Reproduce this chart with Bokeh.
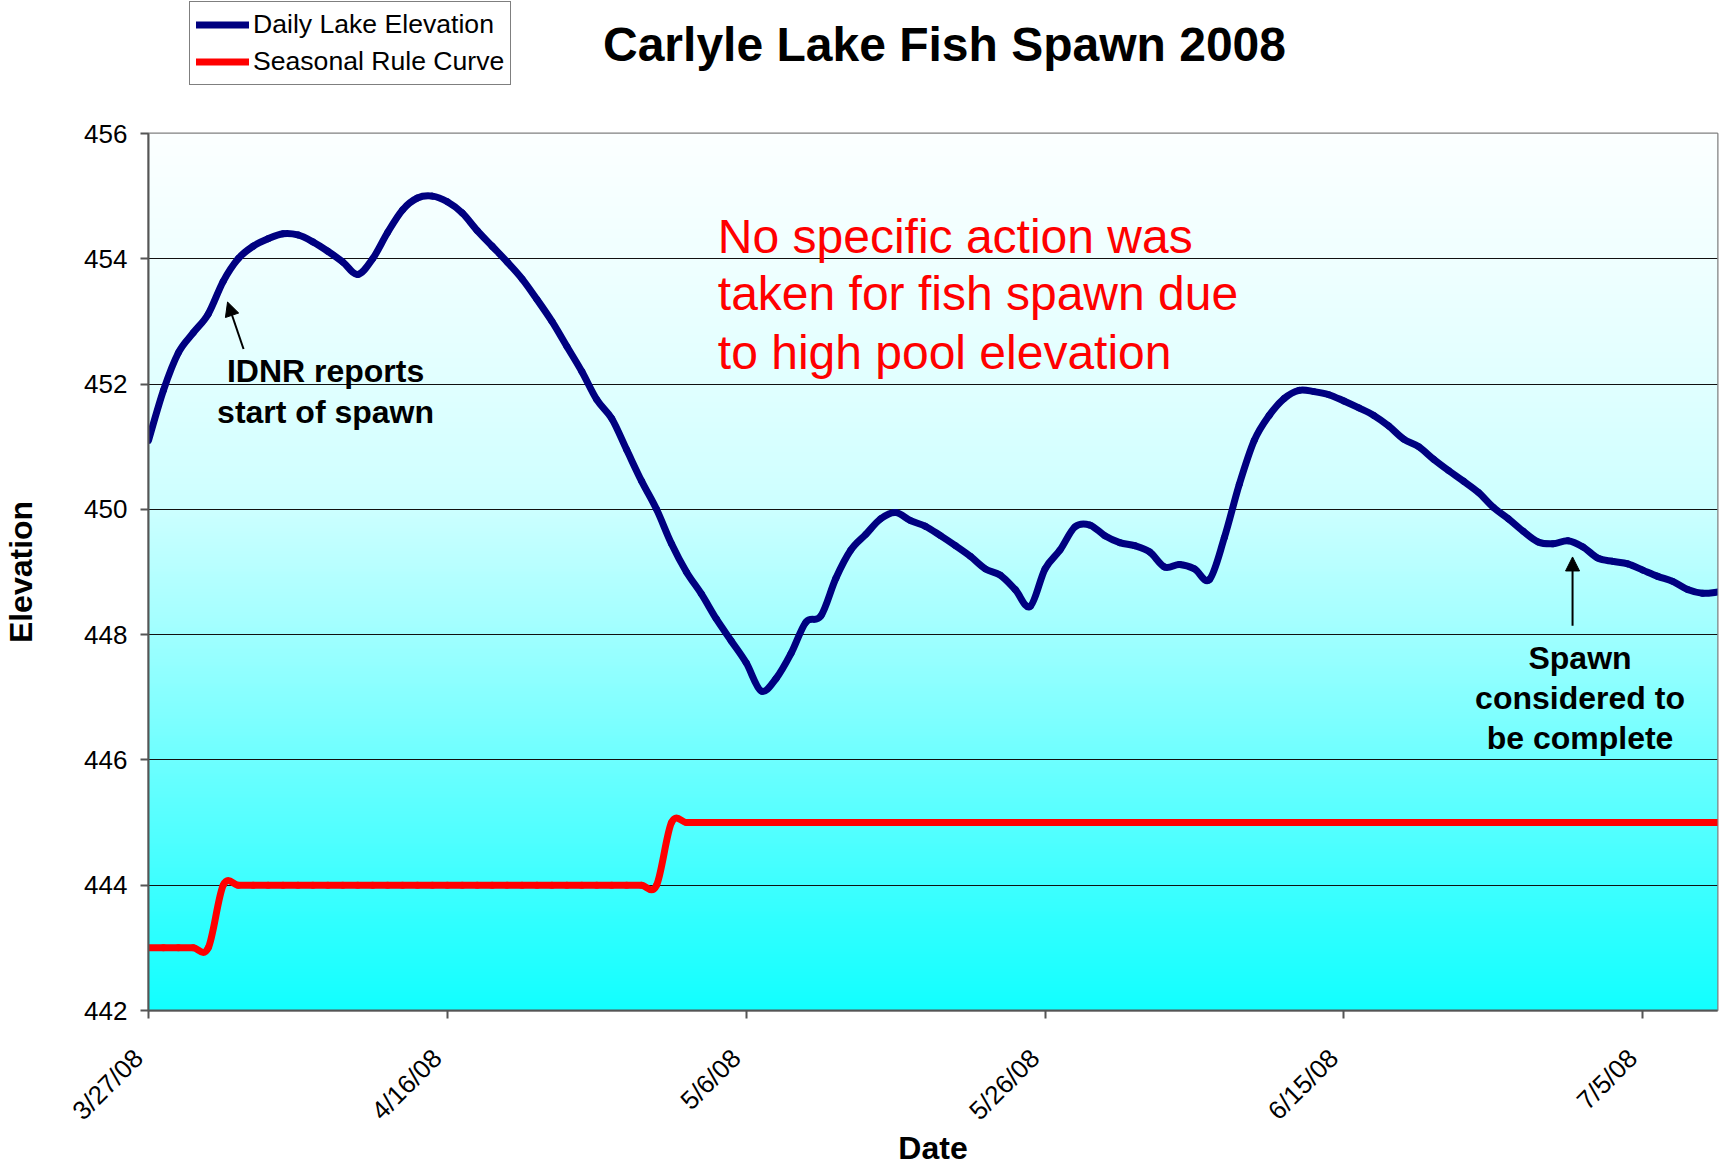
import numpy as np
import pandas as pd
from bokeh.plotting import figure
from bokeh.layouts import column
from bokeh.models import (FixedTicker, Legend, LegendItem, Arrow, NormalHead,
                          Label, Range1d)
from bokeh.embed import file_html
from bokeh.resources import INLINE

# ---------------- data ----------------
start_date = "2008-03-27"
end_date = "2008-07-10"
dates = pd.date_range(start_date, end_date, freq="D")

daily_elevation = [
    451.10, 451.90, 452.50, 452.82, 453.12, 453.64, 454.00, 454.20, 454.32, 454.40,
    454.38, 454.27, 454.12, 453.95, 453.75, 454.00, 454.42, 454.78, 454.97, 455.00,
    454.91, 454.73, 454.45, 454.20, 453.95, 453.68, 453.35, 453.00, 452.60, 452.20,
    451.75, 451.45, 450.95, 450.45, 450.00, 449.45, 449.00, 448.65, 448.25, 447.90,
    447.55, 447.10, 447.30, 447.70, 448.20, 448.30, 448.90, 449.35, 449.60, 449.85,
    449.95, 449.82, 449.73, 449.58, 449.42, 449.25, 449.05, 448.95, 448.72, 448.45,
    449.05, 449.35, 449.72, 449.75, 449.58, 449.47, 449.42, 449.32, 449.08, 449.12,
    449.05, 448.88, 449.55, 450.40, 451.10, 451.50, 451.77, 451.90, 451.88, 451.83,
    451.73, 451.62, 451.50, 451.33, 451.12, 451.00, 450.80, 450.62, 450.45, 450.27,
    450.03, 449.85, 449.65, 449.48, 449.45, 449.50, 449.40, 449.22, 449.17, 449.13,
    449.03, 448.93, 448.85, 448.72, 448.66, 448.68,
]

rule_curve = [443.0] * 5 + [444.0] * 30 + [445.0] * 71

tick_dates = ["2008-03-27", "2008-04-16", "2008-05-06", "2008-05-26",
              "2008-06-15", "2008-07-05"]
tick_labels = ["3/27/08", "4/16/08", "5/6/08", "5/26/08", "6/15/08", "7/5/08"]
y_ticks = [442, 444, 446, 448, 450, 452, 454, 456]

series_names = ["Daily Lake Elevation", "Seasonal Rule Curve"]
title_text = "Carlyle Lake Fish Spawn 2008"
note_lines = ["No specific action was", "taken for fish spawn due",
              "to high pool elevation"]
idnr_lines = ["IDNR reports", "start of spawn"]
spawn_lines = ["Spawn", "considered to", "be complete"]

# ---------------- derived ----------------
days = np.asarray((dates - dates[0]).days, dtype=float)
tick_days = [int((pd.Timestamp(d) - dates[0]).days) for d in tick_dates]
y0, y1 = 442, 456
x0, x1 = float(days[0]), float(days[-1])

FONT = "Liberation Sans"
BLUE = "#000080"
RED = "#FF0000"
LW = 7
W, H = 1722, 1169
HEAD_H = 100
BL, BR = 148, 5          # left / right borders shared by both figures


def smooth_segments(x, y):
    """Cubic Bezier pieces through every data point (Excel-style smoothed line)."""
    x = np.asarray(x, float)
    y = np.asarray(y, float)
    xp = np.concatenate([[x[0]], x, [x[-1]]])
    yp = np.concatenate([[y[0]], y, [y[-1]]])
    n = len(x)
    cx0 = x[:-1] + (xp[2:n + 1] - xp[0:n - 1]) / 6.0
    cy0 = y[:-1] + (yp[2:n + 1] - yp[0:n - 1]) / 6.0
    cx1 = x[1:] - (xp[3:n + 2] - xp[1:n]) / 6.0
    cy1 = y[1:] - (yp[3:n + 2] - yp[1:n]) / 6.0
    return dict(x0=x[:-1], y0=y[:-1], x1=x[1:], y1=y[1:],
                cx0=cx0, cy0=cy0, cx1=cx1, cy1=cy1)


# ---------------- header (title + legend) ----------------
head = figure(width=W, height=HEAD_H, x_range=Range1d(BL, W - BR),
              y_range=Range1d(HEAD_H, 0), output_backend="svg",
              toolbar_location=None, x_axis_location=None,
              y_axis_location=None, min_border_left=BL, min_border_right=BR,
              min_border_top=0, min_border_bottom=0,
              outline_line_color=None, background_fill_color="white",
              border_fill_color="white")
head.grid.visible = False
head.add_layout(Label(x=944, y=44, text=title_text, text_font=FONT,
                      text_font_size="48px", text_font_style="bold",
                      text_color="black", text_align="center",
                      text_baseline="middle"))
# legend keys (same series; they fall outside this header's ranges)
leg_blue = head.line(days, daily_elevation, line_color=BLUE, line_width=LW,
                     line_cap="round")
leg_red = head.line(days, rule_curve, line_color=RED, line_width=LW,
                    line_cap="round")
legend = Legend(items=[LegendItem(label=series_names[0], renderers=[leg_blue]),
                       LegendItem(label=series_names[1], renderers=[leg_red])],
                location=(189 - BL, 15))
legend.label_text_font = FONT
legend.label_text_font_size = "26.6px"
legend.label_text_color = "black"
legend.glyph_width = 53
legend.glyph_height = 33
legend.label_height = 33
legend.label_standoff = 4
legend.spacing = 4
legend.padding = 6
legend.margin = 0
legend.border_line_color = "black"
legend.border_line_width = 1.5
legend.background_fill_color = "white"
legend.background_fill_alpha = 1.0
head.add_layout(legend, "center")

# ---------------- main chart ----------------
p = figure(width=W, height=H - HEAD_H,
           x_range=Range1d(x0, x1), y_range=Range1d(y0, y1),
           output_backend="svg", toolbar_location=None,
           min_border_left=BL, min_border_right=BR,
           min_border_top=133 - HEAD_H, min_border_bottom=157,
           background_fill_color="white", border_fill_color="white")

# background gradient (style only)
n_rows = 300
ys = np.linspace(y0, y1, n_rows)
grad_levels = [442, 444, 446, 448, 450, 452, 454, 456]
grad_red = [18, 62, 110, 160, 205, 225, 240, 252]
red_ch = np.interp(ys, grad_levels, grad_red)
img = np.empty((n_rows, 2), dtype=np.uint32)
view = img.view(dtype=np.uint8).reshape((n_rows, 2, 4))
view[:, :, 0] = red_ch[:, None].astype(np.uint8)
view[:, :, 1] = 255
view[:, :, 2] = 255
view[:, :, 3] = 255
p.image_rgba(image=[img], x=x0, y=y0, dw=x1 - x0, dh=y1 - y0, level="image")

p.bezier(**smooth_segments(days, rule_curve), line_color=RED, line_width=LW,
         line_cap="round")
p.bezier(**smooth_segments(days, daily_elevation), line_color=BLUE,
         line_width=LW, line_cap="round")

# grid / frame
p.xgrid.visible = False
p.ygrid.ticker = FixedTicker(ticks=y_ticks)
p.ygrid.grid_line_color = "#111111"
p.ygrid.grid_line_width = 1
p.outline_line_color = "#808080"
p.outline_line_width = 2

# axes
for ax in (p.xaxis, p.yaxis):
    ax.axis_line_color = "#555555"
    ax.axis_line_width = 2
    ax.major_tick_line_color = "#555555"
    ax.major_tick_line_width = 2
    ax.major_tick_in = 0
    ax.major_tick_out = 8
    ax.minor_tick_line_color = None
    ax.major_label_text_font = FONT
    ax.major_label_text_font_size = "26px"
    ax.major_label_text_color = "black"
    ax.axis_label_text_font = FONT
    ax.axis_label_text_font_size = "32px"
    ax.axis_label_text_font_style = "bold"
    ax.axis_label_text_color = "black"

p.xaxis.ticker = FixedTicker(ticks=tick_days)
# two no-break spaces nudge each slanted date label down-left, as in the original
p.xaxis.major_label_overrides = {d: lab + "\u00a0\u00a0"
                                 for d, lab in zip(tick_days, tick_labels)}
p.xaxis.major_label_orientation = float(np.pi / 4)
p.xaxis.major_label_standoff = 25
p.xaxis.axis_label = "Date"
p.xaxis.axis_label_standoff = -9

p.yaxis.ticker = FixedTicker(ticks=y_ticks)
p.yaxis.major_label_standoff = 13
p.yaxis.axis_label = "Elevation"
p.yaxis.axis_label_standoff = 42

# annotations
for txt, yv in zip(note_lines, [454.36, 453.44, 452.51]):
    p.add_layout(Label(x=38.1, y=yv, text=txt, text_font=FONT,
                       text_font_size="48px", text_color=RED,
                       text_align="left", text_baseline="middle"))

for txt, yv in zip(idnr_lines, [452.21, 451.56]):
    p.add_layout(Label(x=11.85, y=yv, text=txt, text_font=FONT,
                       text_font_size="32px", text_font_style="bold",
                       text_color="black", text_align="center",
                       text_baseline="middle"))

for txt, yv in zip(spawn_lines, [447.62, 446.99, 446.35]):
    p.add_layout(Label(x=95.8, y=yv, text=txt, text_font=FONT,
                       text_font_size="32px", text_font_style="bold",
                       text_color="black", text_align="center",
                       text_baseline="middle"))

p.add_layout(Arrow(end=NormalHead(size=14, fill_color="black", line_color="black"),
                   x_start=6.36, y_start=452.56, x_end=5.29, y_end=453.31,
                   line_width=2, line_color="black"))
p.add_layout(Arrow(end=NormalHead(size=14, fill_color="black", line_color="black"),
                   x_start=95.3, y_start=448.14, x_end=95.3, y_end=449.24,
                   line_width=2, line_color="black"))

layout = column(head, p, spacing=0)
open("out.html", "w").write(file_html(layout, INLINE))
